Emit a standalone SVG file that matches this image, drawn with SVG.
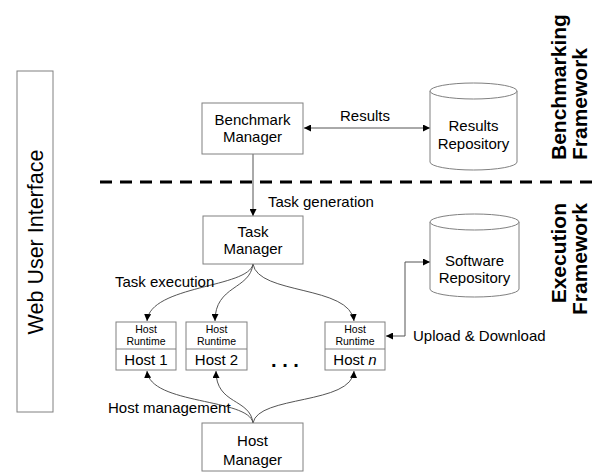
<svg xmlns="http://www.w3.org/2000/svg" width="607" height="473" viewBox="0 0 607 473">
<defs>
<marker id="ah" viewBox="0 0 8 8" refX="8" refY="4" markerWidth="7" markerHeight="7" markerUnits="userSpaceOnUse" orient="auto-start-reverse">
<path d="M0,0 L8,4 L0,8 Z" fill="#000"/>
</marker>
<style>
text{font-family:"Liberation Sans",Arial,sans-serif;fill:#000}
.box{fill:#fff;stroke:#808080;stroke-width:1}
.conn{fill:none;stroke:#555;stroke-width:1}
.lbl{font-size:15px}
.c{text-anchor:middle}
.sm{font-size:10.5px;text-anchor:middle}
.big{font-size:21px;font-weight:bold}
</style>
</defs>
<rect width="607" height="473" fill="#fff"/>

<g id="web-ui">
<rect class="box" x="17" y="71" width="36" height="341"/>
<text class="c" transform="translate(43,242) rotate(-90)" style="font-size:21.5px">Web User Interface</text>
</g>

<line x1="100" y1="182" x2="592" y2="182" stroke="#000" stroke-width="3" stroke-dasharray="12,8"/>

<g id="side-labels">
<text class="big" transform="translate(566,160) rotate(-90)">Benchmarking</text>
<text class="big" transform="translate(587,160) rotate(-90)">Framework</text>
<text class="big" text-anchor="end" transform="translate(566,203) rotate(-90)">Execution</text>
<text class="big" text-anchor="end" transform="translate(587,203) rotate(-90)">Framework</text>
</g>

<g id="connectors">
<line class="conn" x1="304" y1="128" x2="430" y2="128" marker-start="url(#ah)" marker-end="url(#ah)"/>
<line class="conn" x1="253" y1="154" x2="253" y2="216" marker-end="url(#ah)"/>
<path class="conn" d="M253,264 C249,288 150,285 147,321" marker-end="url(#ah)"/>
<path class="conn" d="M253,264 C250,290 215,285 215,321" marker-end="url(#ah)"/>
<path class="conn" d="M253,264 C258,295 350,285 354,321" marker-end="url(#ah)"/>
<path class="conn" d="M253,423 C249,398 150,405 147,371" marker-end="url(#ah)"/>
<path class="conn" d="M253,423 C250,398 216,405 216,371" marker-end="url(#ah)"/>
<path class="conn" d="M253,423 C258,395 352,405 354,371" marker-end="url(#ah)"/>
<polyline class="conn" points="386,336 405,336 405,262 430,262" marker-start="url(#ah)" marker-end="url(#ah)"/>
</g>

<g id="connector-labels">
<text class="lbl c" x="365" y="121">Results</text>
<text class="lbl" x="268" y="207">Task generation</text>
<text class="lbl" x="115" y="287">Task execution</text>
<text class="lbl" x="108" y="413">Host management</text>
<text class="lbl" x="413" y="341">Upload &amp; Download</text>
</g>

<g id="benchmark-manager">
<rect class="box" x="202" y="103" width="101" height="51"/>
<text class="lbl c" x="252.5" y="125">Benchmark</text>
<text class="lbl c" x="252.5" y="142">Manager</text>
</g>

<g id="results-repository">
<path class="box" d="M430,91 A43.5,8 0 0 1 517,91 L517,162 A43.5,8 0 0 1 430,162 Z"/>
<path class="box" d="M430,91 A43.5,8 0 0 0 517,91" fill="none"/>
<text class="lbl c" x="473.5" y="131">Results</text>
<text class="lbl c" x="473.5" y="149">Repository</text>
</g>

<g id="task-manager">
<rect class="box" x="203" y="216" width="100" height="48"/>
<text class="lbl c" x="253" y="237">Task</text>
<text class="lbl c" x="253" y="254">Manager</text>
</g>

<g id="software-repository">
<path class="box" d="M430,222 A44.5,8 0 0 1 519,222 L519,289 A44.5,8 0 0 1 430,289 Z"/>
<path class="box" d="M430,222 A44.5,8 0 0 0 519,222" fill="none"/>
<text class="lbl c" x="474.5" y="266">Software</text>
<text class="lbl c" x="474.5" y="283">Repository</text>
</g>

<g id="host-1">
<rect class="box" x="116" y="322" width="60" height="48"/>
<line class="box" x1="116" y1="349" x2="176" y2="349"/>
<text class="sm" x="146" y="333">Host</text>
<text class="sm" x="146" y="345">Runtime</text>
<text class="lbl c" x="146" y="365">Host 1</text>
</g>

<g id="host-2">
<rect class="box" x="186" y="322" width="61" height="48"/>
<line class="box" x1="186" y1="349" x2="247" y2="349"/>
<text class="sm" x="216.5" y="333">Host</text>
<text class="sm" x="216.5" y="345">Runtime</text>
<text class="lbl c" x="216.5" y="365">Host 2</text>
</g>

<text class="lbl c" x="285" y="367" style="font-size:20px;font-weight:bold">. . .</text>

<g id="host-n">
<rect class="box" x="325" y="322" width="60" height="48"/>
<line class="box" x1="325" y1="349" x2="385" y2="349"/>
<text class="sm" x="355" y="333">Host</text>
<text class="sm" x="355" y="345">Runtime</text>
<text class="lbl c" x="355" y="365">Host <tspan font-style="italic">n</tspan></text>
</g>

<g id="host-manager">
<rect class="box" x="202" y="423" width="101" height="48"/>
<text class="lbl c" x="252.5" y="446">Host</text>
<text class="lbl c" x="252.5" y="465">Manager</text>
</g>
</svg>
